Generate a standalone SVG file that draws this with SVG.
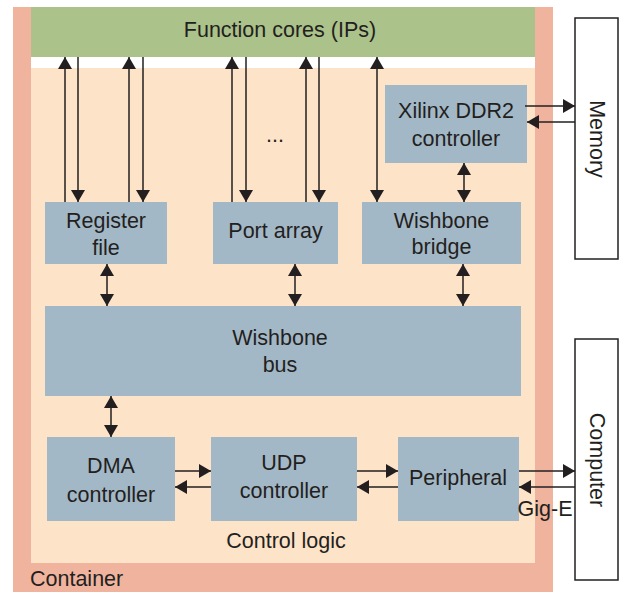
<svg xmlns="http://www.w3.org/2000/svg" width="621" height="592" viewBox="0 0 621 592">
  <style>
    text { font-family: "Liberation Sans", Arial, sans-serif; font-size: 21.5px; fill: #231f20; }
    .mid { text-anchor: middle; }
    .blk { fill: #a3b8c7; }
    .ext { fill: #ffffff; stroke: #231f20; stroke-width: 1.5; }
    .wire { stroke: #231f20; stroke-width: 1.5; fill: none; marker-end: url(#head); }
    .both { marker-start: url(#head); }
  </style>
  <defs>
    <marker id="head" markerUnits="userSpaceOnUse" markerWidth="13" markerHeight="14" refX="12" refY="7" orient="auto-start-reverse">
      <path d="M0,0 L12,7 L0,14 z" fill="#231f20"/>
    </marker>
  </defs>

  <rect width="621" height="592" fill="#ffffff"/>

  <!-- FPGA container and its regions -->
  <g id="container">
    <rect x="13" y="7" width="540" height="585" fill="#f0b49e"/>
    <rect x="31" y="57" width="504" height="11" fill="#ffffff"/>
    <text x="30" y="586">Container</text>
  </g>
  <g id="function-cores">
    <rect x="31" y="7" width="504" height="50" fill="#abc28a"/>
    <text class="mid" x="280" y="37">Function cores (IPs)</text>
  </g>
  <g id="control-logic">
    <rect x="31" y="68" width="504" height="495" fill="#fde3c8"/>
    <text class="mid" x="286" y="548">Control logic</text>
  </g>

  <!-- functional blocks -->
  <g id="register-file">
    <rect class="blk" x="45" y="202" width="122" height="62"/>
    <text class="mid" x="106" y="228">Register</text>
    <text class="mid" x="106" y="255">file</text>
  </g>
  <g id="port-array">
    <rect class="blk" x="213" y="202" width="125" height="62"/>
    <text class="mid" x="275.5" y="238">Port array</text>
  </g>
  <g id="wishbone-bridge">
    <rect class="blk" x="362" y="202" width="159" height="62"/>
    <text class="mid" x="441.5" y="228">Wishbone</text>
    <text class="mid" x="441.5" y="254">bridge</text>
  </g>
  <g id="ddr2-controller">
    <rect class="blk" x="385" y="85" width="142" height="78"/>
    <text class="mid" x="456" y="118">Xilinx DDR2</text>
    <text class="mid" x="456" y="146">controller</text>
  </g>
  <g id="wishbone-bus">
    <rect class="blk" x="45" y="306" width="476" height="90"/>
    <text class="mid" x="280" y="345">Wishbone</text>
    <text class="mid" x="280" y="372">bus</text>
  </g>
  <g id="dma-controller">
    <rect class="blk" x="47" y="437" width="128" height="84"/>
    <text class="mid" x="111" y="473">DMA</text>
    <text class="mid" x="111" y="502">controller</text>
  </g>
  <g id="udp-controller">
    <rect class="blk" x="211" y="437" width="146" height="84"/>
    <text class="mid" x="284" y="470">UDP</text>
    <text class="mid" x="284" y="498">controller</text>
  </g>
  <g id="peripheral">
    <rect class="blk" x="398" y="437" width="121" height="84"/>
    <text class="mid" x="458" y="485">Peripheral</text>
  </g>

  <!-- external devices -->
  <g id="memory">
    <rect class="ext" x="575" y="18" width="43" height="241"/>
    <text class="mid" transform="translate(590,139) rotate(90)">Memory</text>
  </g>
  <g id="computer">
    <rect class="ext" x="575" y="339" width="43" height="241"/>
    <text class="mid" transform="translate(590,460) rotate(90)">Computer</text>
  </g>

  <!-- connectors -->
  <g id="connectors">
    <!-- function cores <-> register file -->
    <line class="wire" x1="65" y1="202" x2="65" y2="57"/>
    <line class="wire" x1="78" y1="57" x2="78" y2="202"/>
    <line class="wire" x1="129" y1="202" x2="129" y2="57"/>
    <line class="wire" x1="143" y1="57" x2="143" y2="202"/>
    <!-- function cores <-> port array -->
    <line class="wire" x1="232" y1="202" x2="232" y2="57"/>
    <line class="wire" x1="246" y1="57" x2="246" y2="202"/>
    <line class="wire" x1="306" y1="202" x2="306" y2="57"/>
    <line class="wire" x1="319" y1="57" x2="319" y2="202"/>
    <text class="mid" x="275" y="142">...</text>
    <!-- function cores <-> wishbone bridge -->
    <line class="wire both" x1="377" y1="57" x2="377" y2="202"/>
    <!-- DDR2 controller <-> bridge -->
    <line class="wire both" x1="464" y1="163" x2="464" y2="202"/>
    <!-- DDR2 controller <-> memory -->
    <line class="wire" x1="525" y1="106" x2="575" y2="106"/>
    <line class="wire" x1="575" y1="122" x2="527" y2="122"/>
    <!-- blocks <-> bus -->
    <line class="wire both" x1="107" y1="264" x2="107" y2="306"/>
    <line class="wire both" x1="295" y1="264" x2="295" y2="306"/>
    <line class="wire both" x1="463" y1="264" x2="463" y2="306"/>
    <line class="wire both" x1="111" y1="396" x2="111" y2="437"/>
    <!-- DMA <-> UDP <-> peripheral -->
    <line class="wire" x1="175" y1="471" x2="211" y2="471"/>
    <line class="wire" x1="211" y1="487" x2="175" y2="487"/>
    <line class="wire" x1="357" y1="471" x2="398" y2="471"/>
    <line class="wire" x1="398" y1="487" x2="357" y2="487"/>
    <!-- peripheral <-> computer -->
    <line class="wire" x1="519" y1="471" x2="575" y2="471"/>
    <line class="wire" x1="575" y1="487" x2="519" y2="487"/>
    <text class="mid" x="545" y="516">Gig-E</text>
  </g>
</svg>
